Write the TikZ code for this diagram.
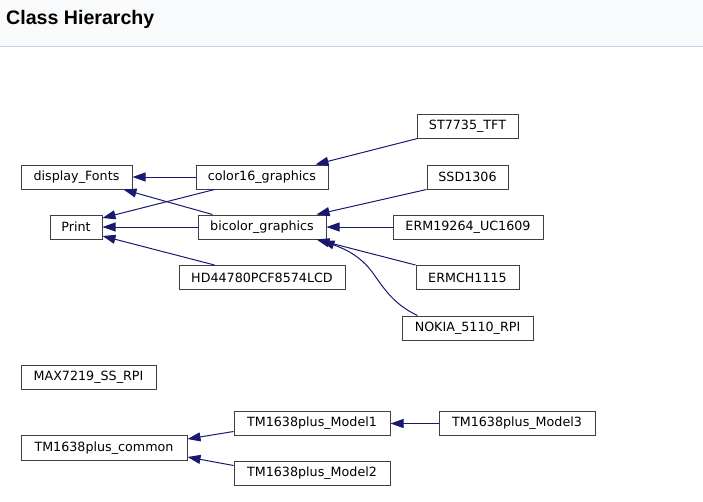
\documentclass[tikz,border=0pt]{standalone}
\usepackage{fontspec}
\setmainfont{DejaVu Sans}
\newfontfamily\titlefont{Liberation Sans}
\usetikzlibrary{arrows.meta}
\definecolor{edgecol}{HTML}{191970}
\definecolor{boxcol}{HTML}{404040}
\definecolor{headbg}{HTML}{F9FAFC}
\definecolor{headline}{HTML}{C4CFE5}
\tikzset{
  cls/.style={draw=boxcol, line width=1pt, fill=white, minimum height=24pt, inner sep=0pt, font=\fontsize{12.7}{14}\selectfont, text=black},
  edge/.style={draw=edgecol, line width=1pt, -{Triangle[length=13pt,width=9pt]}}
}
\begin{document}
\begin{tikzpicture}[x=1pt,y=-1pt]
\useasboundingbox (0,0) rectangle (703,501);
\fill[white] (0,0) rectangle (703,501);
\fill[headbg] (0,0) rectangle (703,46);
\draw[headline, line width=1pt] (0,46.5) -- (703,46.5);
\node[anchor=west, inner sep=0pt, font=\titlefont\bfseries\fontsize{19.6}{22}\selectfont] (title) at (6,19) {Class Hierarchy};

\node[cls, minimum width=111pt] (display) at (76.5,177) {display\_Fonts};
\node[cls, minimum width=132pt] (color16) at (262,177) {color16\_graphics};
\node[cls, minimum width=101pt] (st7735) at (467.5,126) {ST7735\_TFT};
\node[cls, minimum width=52pt] (print) at (76,227) {Print};
\node[cls, minimum width=128pt] (bicolor) at (262,227) {bicolor\_graphics};
\node[cls, minimum width=81pt] (ssd) at (467.5,177) {SSD1306};
\node[cls, minimum width=150pt] (erm) at (468,227) {ERM19264\_UC1609};
\node[cls, minimum width=166pt] (hd) at (262,277.5) {HD44780PCF8574LCD};
\node[cls, minimum width=103pt] (ermch) at (467.5,277.5) {ERMCH1115};
\node[cls, minimum width=131pt] (nokia) at (467.5,328) {NOKIA\_5110\_RPI};
\node[cls, minimum width=135pt] (max) at (88.5,377) {MAX7219\_SS\_RPI};
\node[cls, minimum width=166pt, minimum height=25pt] (common) at (104,448) {TM1638plus\_common};
\node[cls, minimum width=156pt] (m1) at (312,423.5) {TM1638plus\_Model1};
\node[cls, minimum width=156pt] (m3) at (517,423.5) {TM1638plus\_Model3};
\node[cls, minimum width=156pt] (m2) at (312,473.5) {TM1638plus\_Model2};

% edges
\draw[edge] (color16.west) -- (display.east);
\draw[edge] ([xshift=15pt]bicolor.north west) -- ([xshift=-9pt]display.south east);
\draw[edge] ([xshift=19pt]color16.south west) -- ([yshift=9pt]print.east);
\draw[edge] (bicolor.west) -- (print.east);
\draw[edge] ([xshift=36pt]hd.north west) -- ([yshift=-9pt]print.east);
\draw[edge] ([xshift=1pt]st7735.south west) -- ([xshift=-13pt]color16.north east);
\draw[edge] (ssd.south west) -- ([xshift=-10pt]bicolor.north east);
\draw[edge] (erm.west) -- (bicolor.east);
\draw[edge] (ermch.north west) -- ([xshift=-10pt]bicolor.south east);
\draw[edge] ([xshift=16pt]nokia.north west) .. controls (395,305) and (385,290) .. (375,276) .. controls (363,258) and (348,250) .. ([xshift=-5pt,yshift=-1pt]bicolor.south east);
\draw[edge] ([yshift=-8pt]m1.west) -- ([yshift=9pt]common.east);
\draw[edge] (m3.west) -- (m1.east);
\draw[edge] ([yshift=8pt]m2.west) -- ([yshift=-9pt]common.east);
\end{tikzpicture}
\end{document}
